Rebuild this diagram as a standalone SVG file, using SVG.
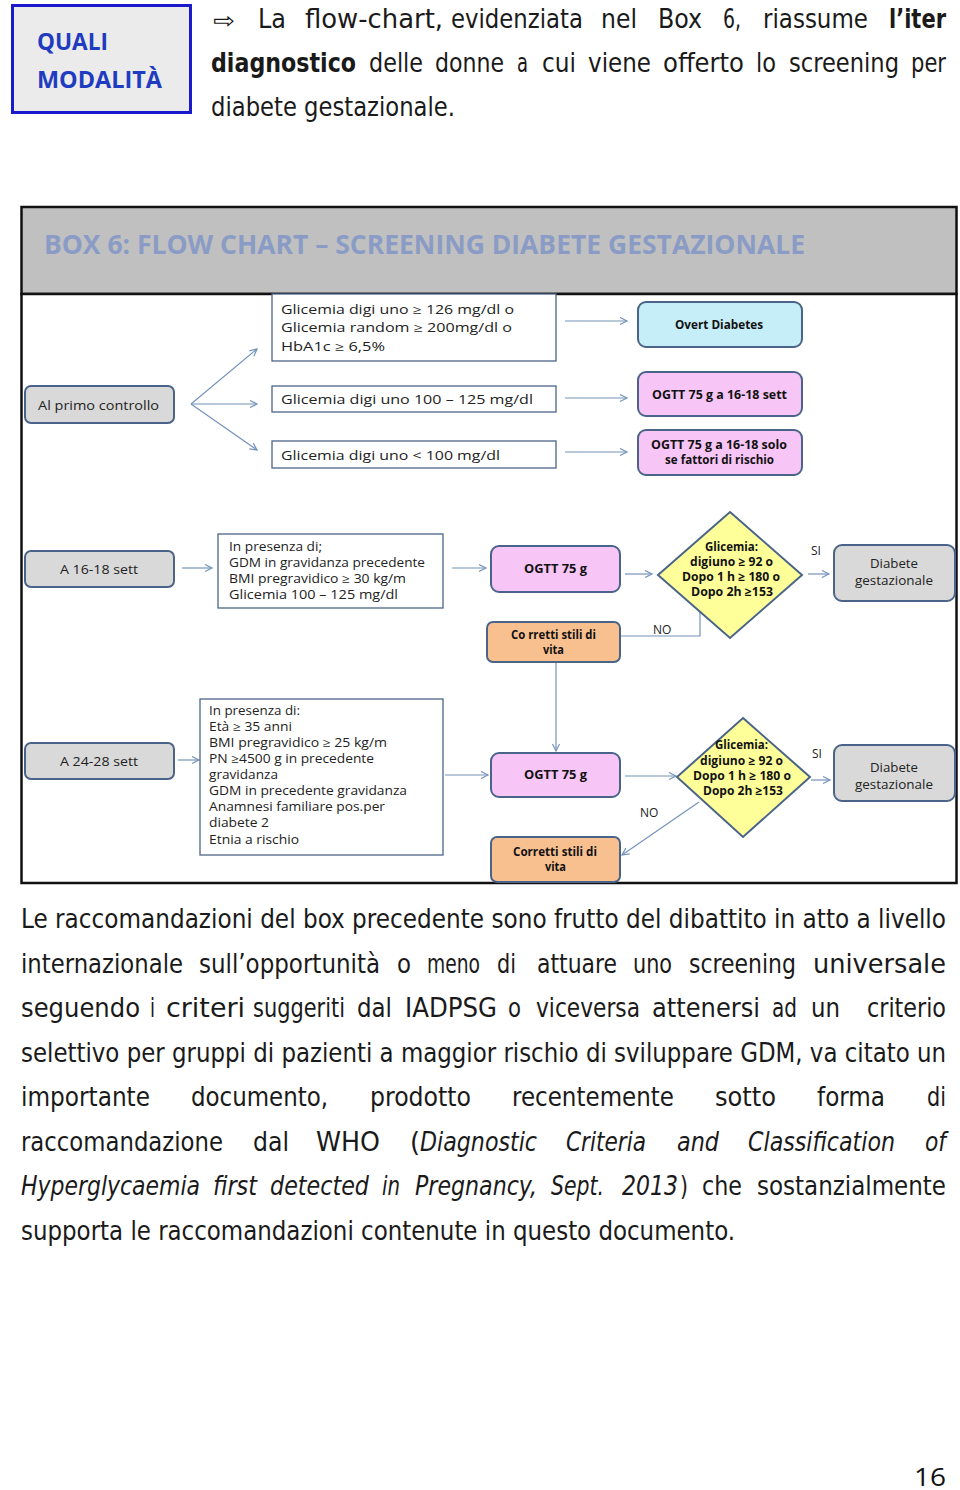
<svg xmlns="http://www.w3.org/2000/svg" width="960" height="1490" viewBox="0 0 960 1490">
<style>
.body{font-family:"Liberation Sans Narrow","DejaVu Sans Condensed","Liberation Sans",sans-serif;font-size:27px;fill:#1a1a1a}
.it{font-style:italic}
.b{font-weight:bold}
.fc{font-family:"Open Sans","Liberation Sans",sans-serif;font-size:12px;fill:#222}
.fcb{font-family:"Open Sans","Liberation Sans",sans-serif;font-size:12px;fill:#111;font-weight:bold}
.nd{stroke:#4a6489;stroke-width:2}
.bx{fill:#fff;stroke:#4a6489;stroke-width:1.3}
.cn{fill:none;stroke:#7593ba;stroke-width:1.2}
</style>
<defs>
<marker id="ah" markerWidth="10" markerHeight="10" refX="8" refY="4" orient="auto" markerUnits="userSpaceOnUse">
<path d="M1,0.5 L8,4 L1,7.5" fill="none" stroke="#7593ba" stroke-width="1.2"/>
</marker>
</defs>
<rect width="960" height="1490" fill="#fff"/>

<g id="quali">
<rect x="12.5" y="5.5" width="178" height="107" fill="#ebebeb" stroke="#1a1acc" stroke-width="3"/>
<text x="37" y="50" font-family="Open Sans,Liberation Sans,sans-serif" font-weight="bold" font-size="24" fill="#1f3cc0" textLength="71" lengthAdjust="spacingAndGlyphs">QUALI</text>
<text x="37" y="88" font-family="Open Sans,Liberation Sans,sans-serif" font-weight="bold" font-size="24" fill="#1f3cc0" textLength="125" lengthAdjust="spacingAndGlyphs">MODALITÀ</text>
</g>

<g id="intro" class="body">
<text y="28"><tspan x="213" textLength="22" lengthAdjust="spacingAndGlyphs" font-family="DejaVu Sans,sans-serif" font-size="22">⇨</tspan><tspan x="258" textLength="28" lengthAdjust="spacingAndGlyphs">La</tspan><tspan x="305" textLength="138" lengthAdjust="spacingAndGlyphs">flow-chart,</tspan><tspan x="451" textLength="132" lengthAdjust="spacingAndGlyphs">evidenziata</tspan><tspan x="601" textLength="36" lengthAdjust="spacingAndGlyphs">nel</tspan><tspan x="658" textLength="44" lengthAdjust="spacingAndGlyphs">Box</tspan><tspan x="723" textLength="18" lengthAdjust="spacingAndGlyphs">6,</tspan><tspan x="763" textLength="105" lengthAdjust="spacingAndGlyphs">riassume</tspan><tspan x="889" textLength="57" lengthAdjust="spacingAndGlyphs" class="b">l’iter</tspan></text>
<text y="72"><tspan x="211" textLength="145" lengthAdjust="spacingAndGlyphs" class="b">diagnostico</tspan><tspan x="369" textLength="54" lengthAdjust="spacingAndGlyphs">delle</tspan><tspan x="435" textLength="69" lengthAdjust="spacingAndGlyphs">donne</tspan><tspan x="517" textLength="11" lengthAdjust="spacingAndGlyphs">a</tspan><tspan x="542" textLength="34" lengthAdjust="spacingAndGlyphs">cui</tspan><tspan x="588" textLength="63" lengthAdjust="spacingAndGlyphs">viene</tspan><tspan x="663" textLength="81" lengthAdjust="spacingAndGlyphs">offerto</tspan><tspan x="756" textLength="20" lengthAdjust="spacingAndGlyphs">lo</tspan><tspan x="789" textLength="110" lengthAdjust="spacingAndGlyphs">screening</tspan><tspan x="911" textLength="35" lengthAdjust="spacingAndGlyphs">per</tspan></text>
<text x="211" y="116" textLength="244" lengthAdjust="spacingAndGlyphs">diabete gestazionale.</text>
</g>

<g id="frame">
<rect x="21.5" y="207" width="935" height="87" fill="#c0c0c0" stroke="#111" stroke-width="2.5"/>
<rect x="21.5" y="294" width="935" height="589" fill="#fff" stroke="#111" stroke-width="2.5"/>
<text x="44" y="254" font-family="Open Sans,Liberation Sans,sans-serif" font-weight="bold" font-size="26" fill="#8a9cc6" textLength="761" lengthAdjust="spacingAndGlyphs">BOX 6: FLOW CHART – SCREENING DIABETE GESTAZIONALE</text>
</g>

<g id="connectors">
<path class="cn" d="M191,404 L257,349" marker-end="url(#ah)"/>
<path class="cn" d="M191,404 L257,404" marker-end="url(#ah)"/>
<path class="cn" d="M191,404 L257,450" marker-end="url(#ah)"/>
<path class="cn" d="M565,321 L627,321" marker-end="url(#ah)"/>
<path class="cn" d="M565,398 L627,398" marker-end="url(#ah)"/>
<path class="cn" d="M565,452 L627,452" marker-end="url(#ah)"/>
<path class="cn" d="M182,568 L212,568" marker-end="url(#ah)"/>
<path class="cn" d="M452,568 L486,568" marker-end="url(#ah)"/>
<path class="cn" d="M625,574 L652,574" marker-end="url(#ah)"/>
<path class="cn" d="M808,574 L829,574" marker-end="url(#ah)"/>
<path class="cn" d="M700,612 L700,636 L621,636"/>
<path class="cn" d="M556,663 L556,751" marker-end="url(#ah)"/>
<path class="cn" d="M178,760 L199,760" marker-end="url(#ah)"/>
<path class="cn" d="M445,775 L488,775" marker-end="url(#ah)"/>
<path class="cn" d="M625,776 L676,776" marker-end="url(#ah)"/>
<path class="cn" d="M811,780 L830,780" marker-end="url(#ah)"/>
<path class="cn" d="M699,802 L622,855" marker-end="url(#ah)"/>
</g>

<g id="n-primo">
<rect class="nd" x="25" y="386" width="149" height="37" rx="6" fill="#d9d9d9"/>
<text class="fc" x="38" y="410" font-size="13" textLength="121" lengthAdjust="spacingAndGlyphs">Al  primo controllo</text>
</g>
<g id="n-c1">
<rect class="bx" x="272" y="294" width="284" height="67"/>
<text class="fc" x="281" y="314" font-size="14" textLength="233" lengthAdjust="spacingAndGlyphs">Glicemia digi uno ≥ 126 mg/dl o</text>
<text class="fc" x="281" y="332" font-size="14" textLength="231" lengthAdjust="spacingAndGlyphs">Glicemia random ≥ 200mg/dl o</text>
<text class="fc" x="281" y="351" font-size="14" textLength="104" lengthAdjust="spacingAndGlyphs">HbA1c ≥ 6,5%</text>
</g>
<g id="n-c2">
<rect class="bx" x="272" y="386" width="284" height="26"/>
<text class="fc" x="281" y="404" font-size="14" textLength="252" lengthAdjust="spacingAndGlyphs">Glicemia digi uno 100 – 125 mg/dl</text>
</g>
<g id="n-c3">
<rect class="bx" x="272" y="441" width="284" height="27"/>
<text class="fc" x="281" y="460" font-size="14" textLength="219" lengthAdjust="spacingAndGlyphs">Glicemia digi uno &lt; 100 mg/dl</text>
</g>
<g id="n-overt">
<rect class="nd" x="638" y="302" width="164" height="45" rx="8" fill="#c5eef8"/>
<text class="fcb" x="675" y="329" font-size="11" textLength="88" lengthAdjust="spacingAndGlyphs">Overt Diabetes</text>
</g>
<g id="n-ogtt1">
<rect class="nd" x="638" y="372" width="164" height="44" rx="8" fill="#f7c6f7"/>
<text class="fcb" x="652" y="399" font-size="11" textLength="135" lengthAdjust="spacingAndGlyphs">OGTT 75 g a 16-18 sett</text>
</g>
<g id="n-ogtt2">
<rect class="nd" x="638" y="430" width="164" height="45" rx="8" fill="#f7c6f7"/>
<text class="fcb" x="651" y="449" font-size="11" textLength="136" lengthAdjust="spacingAndGlyphs">OGTT 75 g a 16-18 solo</text>
<text class="fcb" x="665" y="464" font-size="11" textLength="109" lengthAdjust="spacingAndGlyphs">se fattori di rischio</text>
</g>

<g id="n-1618">
<rect class="nd" x="25" y="551" width="149" height="36" rx="6" fill="#d9d9d9"/>
<text class="fc" x="60" y="574" font-size="13" textLength="78" lengthAdjust="spacingAndGlyphs">A 16-18 sett</text>
</g>
<g id="n-risk1">
<rect class="bx" x="218" y="534" width="225" height="74"/>
<text class="fc" x="229" y="551" textLength="93" lengthAdjust="spacingAndGlyphs">In presenza di;</text>
<text class="fc" x="229" y="567" textLength="196" lengthAdjust="spacingAndGlyphs">GDM in gravidanza precedente</text>
<text class="fc" x="229" y="583" textLength="177" lengthAdjust="spacingAndGlyphs">BMI pregravidico ≥ 30 kg/m</text>
<text class="fc" x="229" y="599" textLength="169" lengthAdjust="spacingAndGlyphs">Glicemia  100 – 125 mg/dl</text>
</g>
<g id="n-ogtt3">
<rect class="nd" x="491" y="546" width="129" height="46" rx="8" fill="#f7c6f7"/>
<text class="fcb" x="524" y="573" font-size="11" textLength="63" lengthAdjust="spacingAndGlyphs">OGTT 75 g</text>
</g>
<g id="n-dia1">
<path class="nd" d="M730,512 L802,575 L730,638 L658,575 Z" fill="#ffff99" stroke-width="1.5"/>
<text class="fcb" x="705" y="551" font-size="11" textLength="53" lengthAdjust="spacingAndGlyphs">Glicemia:</text>
<text class="fcb" x="690" y="566" font-size="11" textLength="83" lengthAdjust="spacingAndGlyphs">digiuno ≥ 92 o</text>
<text class="fcb" x="682" y="581" font-size="11" textLength="98" lengthAdjust="spacingAndGlyphs">Dopo 1 h ≥ 180 o</text>
<text class="fcb" x="691" y="596" font-size="11" textLength="82" lengthAdjust="spacingAndGlyphs">Dopo 2h ≥153</text>
<text class="fc" x="811" y="555" font-size="9">SI</text>
<text class="fc" x="653" y="634" font-size="10">NO</text>
</g>
<g id="n-gdm1">
<rect class="nd" x="834" y="545" width="121" height="56" rx="8" fill="#d9d9d9"/>
<text class="fc" x="870" y="568" textLength="48" lengthAdjust="spacingAndGlyphs">Diabete</text>
<text class="fc" x="855" y="585" textLength="78" lengthAdjust="spacingAndGlyphs">gestazionale</text>
</g>
<g id="n-stili1">
<rect class="nd" x="487" y="622" width="133" height="40" rx="6" fill="#f9c08f"/>
<text class="fcb" x="511" y="639" font-size="11" textLength="85" lengthAdjust="spacingAndGlyphs">Co rretti stili di</text>
<text class="fcb" x="543" y="654" font-size="11" textLength="21" lengthAdjust="spacingAndGlyphs">vita</text>
</g>

<g id="n-2428">
<rect class="nd" x="25" y="743" width="149" height="36" rx="6" fill="#d9d9d9"/>
<text class="fc" x="60" y="766" font-size="13" textLength="78" lengthAdjust="spacingAndGlyphs">A 24-28 sett</text>
</g>
<g id="n-risk2">
<rect class="bx" x="200" y="699" width="243" height="156"/>
<text class="fc" x="209" y="715" textLength="91" lengthAdjust="spacingAndGlyphs">In presenza di:</text>
<text class="fc" x="209" y="731" textLength="83" lengthAdjust="spacingAndGlyphs">Età ≥ 35 anni</text>
<text class="fc" x="209" y="747" textLength="178" lengthAdjust="spacingAndGlyphs">BMI pregravidico ≥ 25 kg/m</text>
<text class="fc" x="209" y="763" textLength="165" lengthAdjust="spacingAndGlyphs">PN ≥4500 g in precedente</text>
<text class="fc" x="209" y="779" textLength="69" lengthAdjust="spacingAndGlyphs">gravidanza</text>
<text class="fc" x="209" y="795" textLength="198" lengthAdjust="spacingAndGlyphs">GDM in precedente gravidanza</text>
<text class="fc" x="209" y="811" textLength="176" lengthAdjust="spacingAndGlyphs">Anamnesi familiare pos.per</text>
<text class="fc" x="209" y="827" textLength="60" lengthAdjust="spacingAndGlyphs">diabete 2</text>
<text class="fc" x="209" y="844" textLength="90" lengthAdjust="spacingAndGlyphs">Etnia a rischio</text>
</g>
<g id="n-ogtt4">
<rect class="nd" x="491" y="753" width="129" height="44" rx="8" fill="#f7c6f7"/>
<text class="fcb" x="524" y="779" font-size="11" textLength="63" lengthAdjust="spacingAndGlyphs">OGTT 75 g</text>
</g>
<g id="n-dia2">
<path class="nd" d="M743,718 L810,777 L743,837 L677,777 Z" fill="#ffff99" stroke-width="1.5"/>
<text class="fcb" x="715" y="749" font-size="11" textLength="53" lengthAdjust="spacingAndGlyphs">Glicemia:</text>
<text class="fcb" x="700" y="765" font-size="11" textLength="83" lengthAdjust="spacingAndGlyphs">digiuno ≥ 92 o</text>
<text class="fcb" x="693" y="780" font-size="11" textLength="98" lengthAdjust="spacingAndGlyphs">Dopo 1 h ≥ 180 o</text>
<text class="fcb" x="703" y="795" font-size="11" textLength="80" lengthAdjust="spacingAndGlyphs">Dopo 2h ≥153</text>
<text class="fc" x="812" y="758" font-size="9">SI</text>
<text class="fc" x="640" y="817" font-size="10">NO</text>
</g>
<g id="n-gdm2">
<rect class="nd" x="834" y="745" width="121" height="56" rx="8" fill="#d9d9d9"/>
<text class="fc" x="870" y="772" textLength="48" lengthAdjust="spacingAndGlyphs">Diabete</text>
<text class="fc" x="855" y="789" textLength="78" lengthAdjust="spacingAndGlyphs">gestazionale</text>
</g>
<g id="n-stili2">
<rect class="nd" x="491" y="837" width="129" height="45" rx="6" fill="#f9c08f"/>
<text class="fcb" x="513" y="856" font-size="11" textLength="84" lengthAdjust="spacingAndGlyphs">Corretti stili di</text>
<text class="fcb" x="545" y="871" font-size="11" textLength="21" lengthAdjust="spacingAndGlyphs">vita</text>
</g>

<g id="paragraph" class="body">
<text x="21" y="928" textLength="925" lengthAdjust="spacingAndGlyphs">Le raccomandazioni del box precedente sono frutto del dibattito in atto a livello</text>
<text y="973"><tspan x="21" textLength="162" lengthAdjust="spacingAndGlyphs">internazionale</tspan><tspan x="199" textLength="181" lengthAdjust="spacingAndGlyphs">sull’opportunità</tspan><tspan x="397" textLength="14" lengthAdjust="spacingAndGlyphs">o</tspan><tspan x="427" textLength="53" lengthAdjust="spacingAndGlyphs">meno</tspan><tspan x="497" textLength="19" lengthAdjust="spacingAndGlyphs">di</tspan><tspan x="537" textLength="80" lengthAdjust="spacingAndGlyphs">attuare</tspan><tspan x="633" textLength="39" lengthAdjust="spacingAndGlyphs">uno</tspan><tspan x="689" textLength="107" lengthAdjust="spacingAndGlyphs">screening</tspan><tspan x="813" textLength="133" lengthAdjust="spacingAndGlyphs">universale</tspan></text>
<text y="1017"><tspan x="21" textLength="119" lengthAdjust="spacingAndGlyphs">seguendo</tspan><tspan x="150" textLength="5" lengthAdjust="spacingAndGlyphs">i</tspan><tspan x="166" textLength="79" lengthAdjust="spacingAndGlyphs">criteri</tspan><tspan x="253" textLength="92" lengthAdjust="spacingAndGlyphs">suggeriti</tspan><tspan x="357" textLength="35" lengthAdjust="spacingAndGlyphs">dal</tspan><tspan x="405" textLength="92" lengthAdjust="spacingAndGlyphs">IADPSG</tspan><tspan x="508" textLength="13" lengthAdjust="spacingAndGlyphs">o</tspan><tspan x="536" textLength="104" lengthAdjust="spacingAndGlyphs">viceversa</tspan><tspan x="652" textLength="108" lengthAdjust="spacingAndGlyphs">attenersi</tspan><tspan x="772" textLength="25" lengthAdjust="spacingAndGlyphs">ad</tspan><tspan x="811" textLength="29" lengthAdjust="spacingAndGlyphs">un</tspan><tspan x="867" textLength="79" lengthAdjust="spacingAndGlyphs">criterio</tspan></text>
<text x="21" y="1062" textLength="925" lengthAdjust="spacingAndGlyphs">selettivo per gruppi di pazienti a maggior rischio di sviluppare GDM, va citato un</text>
<text y="1106"><tspan x="21" textLength="129" lengthAdjust="spacingAndGlyphs">importante</tspan><tspan x="191" textLength="137" lengthAdjust="spacingAndGlyphs">documento,</tspan><tspan x="370" textLength="101" lengthAdjust="spacingAndGlyphs">prodotto</tspan><tspan x="512" textLength="162" lengthAdjust="spacingAndGlyphs">recentemente</tspan><tspan x="715" textLength="61" lengthAdjust="spacingAndGlyphs">sotto</tspan><tspan x="817" textLength="68" lengthAdjust="spacingAndGlyphs">forma</tspan><tspan x="927" textLength="19" lengthAdjust="spacingAndGlyphs">di</tspan></text>
<text y="1151"><tspan x="21" textLength="202" lengthAdjust="spacingAndGlyphs">raccomandazione</tspan><tspan x="253" textLength="36" lengthAdjust="spacingAndGlyphs">dal</tspan><tspan x="316" textLength="64" lengthAdjust="spacingAndGlyphs">WHO</tspan><tspan x="410" textLength="10" lengthAdjust="spacingAndGlyphs">(</tspan><tspan x="420" textLength="117" lengthAdjust="spacingAndGlyphs" class="it">Diagnostic</tspan><tspan x="566" textLength="80" lengthAdjust="spacingAndGlyphs" class="it">Criteria</tspan><tspan x="677" textLength="42" lengthAdjust="spacingAndGlyphs" class="it">and</tspan><tspan x="748" textLength="147" lengthAdjust="spacingAndGlyphs" class="it">Classification</tspan><tspan x="925" textLength="21" lengthAdjust="spacingAndGlyphs" class="it">of</tspan></text>
<text y="1195"><tspan x="21" textLength="179" lengthAdjust="spacingAndGlyphs" class="it">Hyperglycaemia</tspan><tspan x="213" textLength="44" lengthAdjust="spacingAndGlyphs" class="it">first</tspan><tspan x="270" textLength="99" lengthAdjust="spacingAndGlyphs" class="it">detected</tspan><tspan x="382" textLength="18" lengthAdjust="spacingAndGlyphs" class="it">in</tspan><tspan x="415" textLength="122" lengthAdjust="spacingAndGlyphs" class="it">Pregnancy,</tspan><tspan x="551" textLength="53" lengthAdjust="spacingAndGlyphs" class="it">Sept.</tspan><tspan x="622" textLength="56" lengthAdjust="spacingAndGlyphs" class="it">2013</tspan><tspan x="680" textLength="8" lengthAdjust="spacingAndGlyphs">)</tspan><tspan x="702" textLength="40" lengthAdjust="spacingAndGlyphs">che</tspan><tspan x="757" textLength="189" lengthAdjust="spacingAndGlyphs">sostanzialmente</tspan></text>
<text x="21" y="1240" textLength="714" lengthAdjust="spacingAndGlyphs">supporta le raccomandazioni contenute in questo documento.</text>
</g>

<text id="pagenum" x="914" y="1486" font-family="Open Sans,Liberation Sans,sans-serif" font-size="26" fill="#111" textLength="32" lengthAdjust="spacingAndGlyphs">16</text>
</svg>
